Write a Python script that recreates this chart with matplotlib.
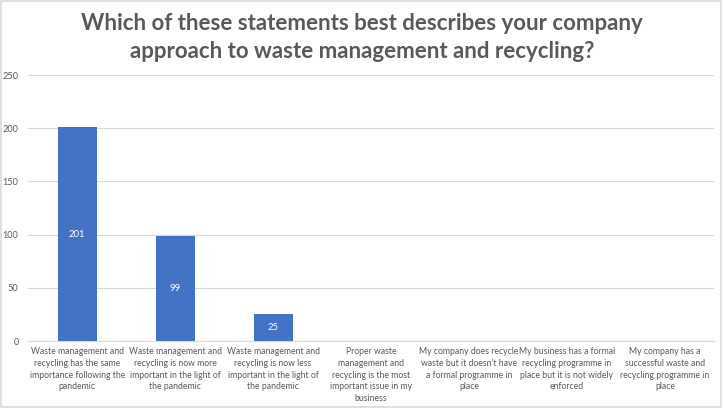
import matplotlib.pyplot as plt
from matplotlib.patches import Rectangle

categories = [
    "Waste management and\nrecycling has the same\nimportance following the\npandemic",
    "Waste management and\nrecycling is now more\nimportant in the light of\nthe pandemic",
    "Waste management and\nrecycling is now less\nimportant in the light of\nthe pandemic",
    "Proper waste\nmanagement and\nrecycling is the most\nimportant issue in my\nbusiness",
    "My company does recycle\nwaste but it doesn\u2019t have\na formal programme in\nplace",
    "My business has a formal\nrecycling programme in\nplace but it is not widely\nenforced",
    "My company has a\nsuccessful waste and\nrecycling programme in\nplace",
]
values = [201, 99, 25, 0, 0, 0, 0]
yticks = [0, 50, 100, 150, 200, 250]

plt.rcParams['font.family'] = ['Lato', 'DejaVu Sans']

fig = plt.figure(figsize=(7.24, 4.08), dpi=100)
fig.patches.append(Rectangle((0.002, 0.003), 0.994, 0.994, transform=fig.transFigure,
                             fill=False, edgecolor='#d9d9d9', linewidth=1.2))
ax = fig.add_axes([0.039, 0.164, 0.947, 0.652])

x = range(len(categories))
bars = ax.bar(x, values, width=0.4, color='#4472c4', zorder=3)
for b, v in zip(bars, values):
    if v > 0:
        ax.text(b.get_x() + b.get_width() / 2, v / 2, str(v), ha='center', va='center',
                color='white', fontsize=6.8, zorder=4)

ax.set_ylim(0, 250)
ax.set_xlim(-0.5, len(categories) - 0.5)
ax.set_yticks(yticks)
ax.yaxis.grid(True, color='#d9d9d9', linewidth=0.8, zorder=0)
ax.set_xticks(list(x))
ax.set_xticklabels(categories, fontsize=6.2, color='#595959', linespacing=1.42)
ax.tick_params(axis='y', labelsize=6.6, labelcolor='#595959', length=0, pad=7)
ax.tick_params(axis='x', length=0, pad=4)
for s in ['top', 'right', 'left']:
    ax.spines[s].set_visible(False)
ax.spines['bottom'].set_color('#d9d9d9')

fig.text(0.5, 0.908, "Which of these statements best describes your company\napproach to waste management and recycling?",
         ha='center', va='center', fontsize=16, fontweight='bold', color='#595959', linespacing=1.45)

fig.savefig('out.png', dpi=100)
